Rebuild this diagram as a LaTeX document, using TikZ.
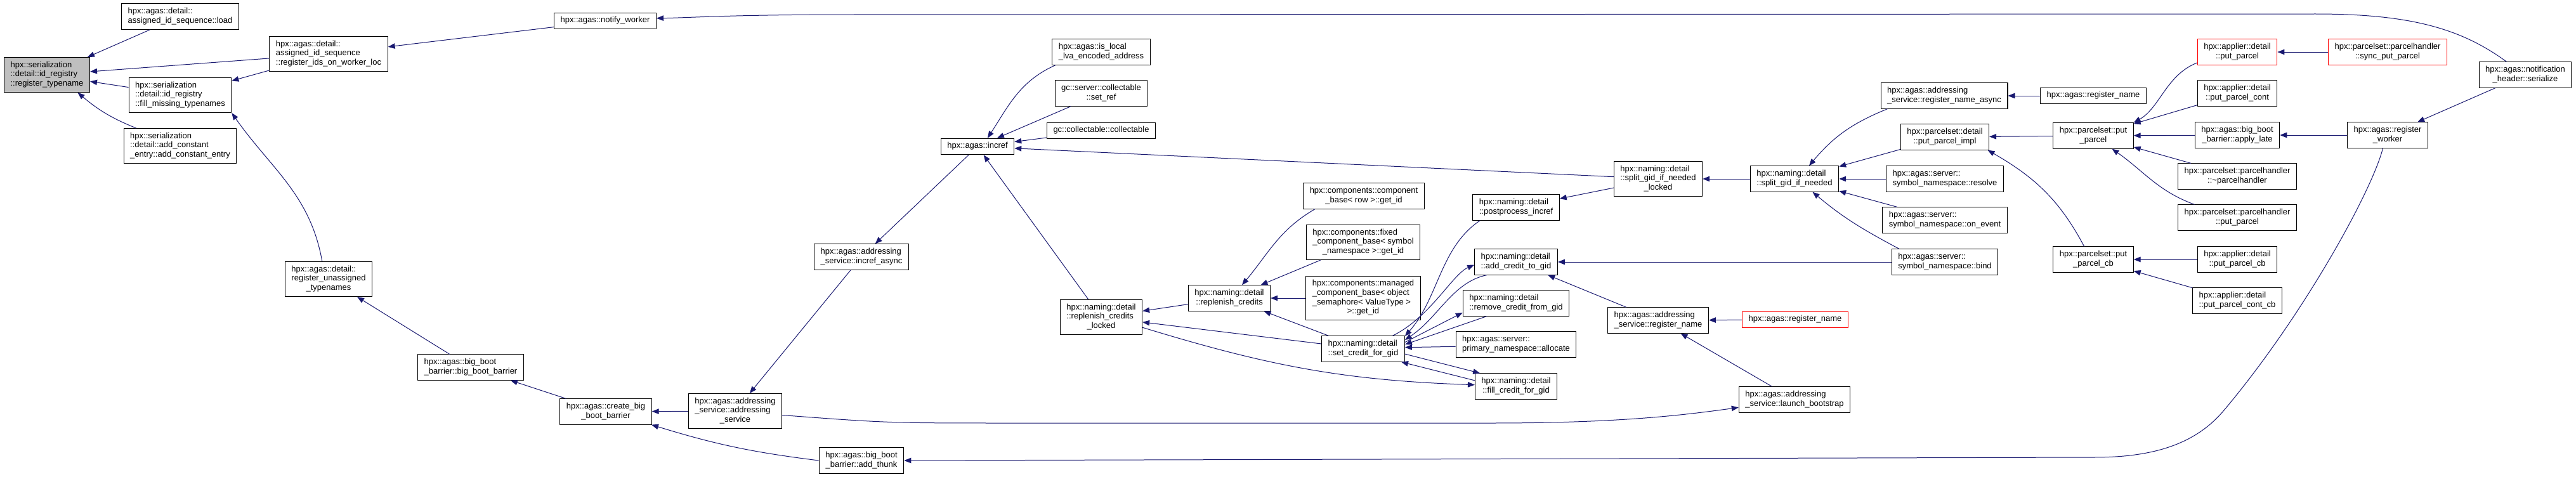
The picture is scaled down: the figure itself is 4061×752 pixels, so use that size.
\documentclass[tikz,border=0pt]{standalone}
\usepackage{fontspec}
\setmainfont{Liberation Sans}
\usetikzlibrary{arrows.meta}

\definecolor{callblue}{HTML}{191970}
\definecolor{selfgray}{HTML}{BFBFBF}

% label of a function box: every line left, the last one centred
\newcommand{\fnlabel}[2]{\begin{tabular}{@{}l@{}}#1\\\multicolumn{1}{@{}c@{}}{#2}\end{tabular}}
\newcommand{\fnone}[1]{\begin{tabular}{@{}c@{}}#1\end{tabular}}

\begin{document}
\begin{tikzpicture}[
  x=1pt, y=1pt,
  func/.style={rectangle, draw=black, line width=1.1pt, fill=white, inner xsep=10pt, inner ysep=5.4pt, font=\fontsize{13}{14.7}\selectfont},
  current/.style={func, fill=selfgray},
  cut/.style={func, draw=red},
  call/.style={draw=callblue, line width=1pt, -{Triangle[length=11pt,width=8.5pt]}}
]
\useasboundingbox (0,0) rectangle (4061,-752);

% ------------------------------------------------------------
% Function and direct callers
% ------------------------------------------------------------

\node[current] (root) at (74,-118) {\fnlabel{hpx::serialization\\::detail::id\_registry}{::register\_typename}};

\node[func] (load) at (284,-26) {\fnlabel{hpx::agas::detail::}{assigned\_id\_sequence::load}};
\node[func] (fillmiss) at (284,-150) {\fnlabel{hpx::serialization\\::detail::id\_registry}{::fill\_missing\_typenames}};
\node[func] (addconst) at (284,-230) {\fnlabel{hpx::serialization\\::detail::add\_constant}{\_entry::add\_constant\_entry}};
\node[func] (regids) at (518,-85) {\fnlabel{hpx::agas::detail::\\assigned\_id\_sequence}{::register\_ids\_on\_worker\_loc}};
\node[func] (unassigned) at (518,-440) {\fnlabel{hpx::agas::detail::\\register\_unassigned}{\_typenames}};
\node[func] (notify) at (954,-33) {\fnone{hpx::agas::notify\_worker}};

\draw[call] (load) -- (root);
\draw[call] (regids) -- (root);
\draw[call] (fillmiss) -- (root);
\draw[call] (addconst.158) to[out=158,in=-40] (root.-30);
\draw[call] (regids) -- (fillmiss);
\draw[call] (unassigned.110) to[out=100,in=-55] (fillmiss.south east);
\draw[call] (notify) -- (regids);

% ------------------------------------------------------------
% Boot barrier
% ------------------------------------------------------------

\node[func] (bigboot) at (742,-579) {\fnlabel{hpx::agas::big\_boot}{\_barrier::big\_boot\_barrier}};
\node[func] (createbig) at (955,-649) {\fnlabel{hpx::agas::create\_big}{\_boot\_barrier}};
\node[func] (addrsvc) at (1159,-648) {\fnlabel{hpx::agas::addressing\\\_service::addressing}{\_service}};
\node[func] (increfasync) at (1358,-405) {\fnlabel{hpx::agas::addressing}{\_service::incref\_async}};
\node[func] (addthunk) at (1358,-726) {\fnlabel{hpx::agas::big\_boot}{\_barrier::add\_thunk}};

\draw[call] (bigboot) -- (unassigned);
\draw[call] (createbig) -- (bigboot);
\draw[call] (addrsvc) -- (createbig);
\draw[call] (addthunk.west) to[bend left=5] (createbig.-16);
\draw[call] (increfasync) -- (addrsvc);

% ------------------------------------------------------------
% Reference counting
% ------------------------------------------------------------

\node[func] (incref) at (1541,-231) {\fnone{hpx::agas::incref}};
\node[func] (islocal) at (1736,-82) {\fnlabel{hpx::agas::is\_local}{\_lva\_encoded\_address}};
\node[func] (setref) at (1736,-147) {\fnlabel{gc::server::collectable}{::set\_ref}};
\node[func] (collectable) at (1736,-206) {\fnone{gc::collectable::collectable}};
\node[func] (replocked) at (1736,-500) {\fnlabel{hpx::naming::detail\\::replenish\_credits}{\_locked}};
\node[func] (replenish) at (1938,-470) {\fnlabel{hpx::naming::detail}{::replenish\_credits}};

\draw[call] (incref) -- (increfasync);
\draw[call] (islocal.196) to[out=204,in=57] (incref.40);
\draw[call] (setref) -- (incref);
\draw[call] (collectable) -- (incref);
\draw[call] (replocked) -- (incref);
\draw[call] (replenish) -- (replocked);

% ------------------------------------------------------------
% Credits
% ------------------------------------------------------------

\node[func] (compbase) at (2150,-309) {\fnlabel{hpx::components::component}{\_base< row >::get\_id}};
\node[func] (fixedcomp) at (2149,-382) {\fnlabel{hpx::components::fixed\\\_component\_base< symbol}{\_namespace >::get\_id}};
\node[func] (managed) at (2149,-470) {\fnlabel{hpx::components::managed\\\_component\_base< object\\\_semaphore< ValueType >}{>::get\_id}};
\node[func] (setcredit) at (2149,-550) {\fnlabel{hpx::naming::detail}{::set\_credit\_for\_gid}};

\node[func] (postincref) at (2390,-327) {\fnlabel{hpx::naming::detail}{::postprocess\_incref}};
\node[func] (addcredit) at (2390,-413) {\fnlabel{hpx::naming::detail}{::add\_credit\_to\_gid}};
\node[func] (rmcredit) at (2390,-478) {\fnlabel{hpx::naming::detail}{::remove\_credit\_from\_gid}};
\node[func] (allocate) at (2390,-543) {\fnlabel{hpx::agas::server::}{primary\_namespace::allocate}};
\node[func] (fillcredit) at (2390,-609) {\fnlabel{hpx::naming::detail}{::fill\_credit\_for\_gid}};

\draw[call] (compbase.195) to[out=210,in=50] (replenish.46);
\draw[call] (fixedcomp) -- (replenish);
\draw[call] (managed) -- (replenish);
\draw[call] (setcredit) -- (replenish);
\draw[call] (setcredit) -- (replocked);
\draw[call] (replocked.-14) to[out=-17,in=178] (fillcredit.178);

\draw[call] (postincref.200) .. controls (2270,-390) and (2268,-470) .. (setcredit.17);
\draw[call] (setcredit.24) .. controls (2255,-500) and (2290,-432) .. (addcredit.184);
\draw[call] (addcredit.204) .. controls (2290,-445) and (2268,-500) .. (setcredit.12);
\draw[call] (setcredit.9) -- (rmcredit.190);
\draw[call] (rmcredit.204) -- (setcredit.6);
\draw[call] (allocate.182) -- (setcredit.2);
\draw[call] (setcredit.-7) -- (fillcredit.160);
\draw[call] (fillcredit.172) -- (setcredit.-19);

% ------------------------------------------------------------
% Splitting gids, names
% ------------------------------------------------------------

\node[func] (splitlocked) at (2614,-282) {\fnlabel{hpx::naming::detail\\::split\_gid\_if\_needed}{\_locked}};
\node[func] (svcregname) at (2614,-505) {\fnlabel{hpx::agas::addressing}{\_service::register\_name}};
\node[func] (split) at (2829,-282) {\fnlabel{hpx::naming::detail}{::split\_gid\_if\_needed}};
\node[cut] (regnamered) at (2830,-504) {\fnone{hpx::agas::register\_name}};
\node[func] (launch) at (2829,-630) {\fnlabel{hpx::agas::addressing}{\_service::launch\_bootstrap}};

\node[func] (regnameasync) at (3065,-151) {\fnlabel{hpx::agas::addressing}{\_service::register\_name\_async}};
\node[func] (putimpl) at (3066,-216) {\fnlabel{hpx::parcelset::detail}{::put\_parcel\_impl}};
\node[func] (resolve) at (3066,-282) {\fnlabel{hpx::agas::server::}{symbol\_namespace::resolve}};
\node[func] (onevent) at (3066,-347) {\fnlabel{hpx::agas::server::}{symbol\_namespace::on\_event}};
\node[func] (bind) at (3066,-413) {\fnlabel{hpx::agas::server::}{symbol\_namespace::bind}};
\node[func] (regname) at (3300,-151) {\fnone{hpx::agas::register\_name}};

\draw[call] (splitlocked) -- (incref);
\draw[call] (splitlocked) -- (postincref);
\draw[call] (svcregname) -- (addcredit);
\draw[call] (bind) -- (addcredit);
\draw[call] (regnamered) -- (svcregname);
\draw[call] (launch) -- (svcregname);
\draw[call] (addrsvc.-5) .. controls (1400,-667) .. (1600,-667) -- (2350,-667) .. controls (2550,-667) and (2650,-655) .. (launch.188);

\draw[call] (split) -- (splitlocked);
\draw[call] (regnameasync.193) to[out=202,in=50] (split.42);
\draw[call] (putimpl) -- (split);
\draw[call] (resolve) -- (split);
\draw[call] (onevent) -- (split);
\draw[call] (bind.164) to[out=152,in=-40] (split.-36);
\draw[call] (regname) -- (regnameasync);

% ------------------------------------------------------------
% Parcels
% ------------------------------------------------------------

\node[func] (putparcel) at (3300,-214) {\fnlabel{hpx::parcelset::put}{\_parcel}};
\node[func] (putparcelcb) at (3300,-409) {\fnlabel{hpx::parcelset::put}{\_parcel\_cb}};

\node[cut] (appput) at (3527,-82) {\fnlabel{hpx::applier::detail}{::put\_parcel}};
\node[func] (appcont) at (3527,-147) {\fnlabel{hpx::applier::detail}{::put\_parcel\_cont}};
\node[func] (applylate) at (3527,-213) {\fnlabel{hpx::agas::big\_boot}{\_barrier::apply\_late}};
\node[func] (dtor) at (3527,-278) {\fnlabel{hpx::parcelset::parcelhandler}{::\textasciitilde parcelhandler}};
\node[func] (phput) at (3527,-343) {\fnlabel{hpx::parcelset::parcelhandler}{::put\_parcel}};
\node[func] (appcb) at (3527,-409) {\fnlabel{hpx::applier::detail}{::put\_parcel\_cb}};
\node[func] (appcontcb) at (3527,-474) {\fnlabel{hpx::applier::detail}{::put\_parcel\_cont\_cb}};

\node[cut] (syncput) at (3764,-82) {\fnlabel{hpx::parcelset::parcelhandler}{::sync\_put\_parcel}};
\node[func] (regworker) at (3764,-213) {\fnlabel{hpx::agas::register}{\_worker}};
\node[func] (notifhdr) at (3981,-118) {\fnlabel{hpx::agas::notification}{\_header::serialize}};

\draw[call] (putparcel) -- (putimpl);
\draw[call] (putparcelcb.125) to[out=118,in=-30] (putimpl.-17);
\draw[call] (appput.195) .. controls (3415,-118) and (3405,-170) .. (putparcel.north east);
\draw[call] (appcont) -- (putparcel);
\draw[call] (applylate) -- (putparcel);
\draw[call] (dtor) -- (putparcel);
\draw[call] (phput.163) to[out=160,in=-35] (putparcel.-35);
\draw[call] (appcb) -- (putparcelcb);
\draw[call] (appcontcb) -- (putparcelcb);
\draw[call] (syncput) -- (appput);
\draw[call] (regworker) -- (applylate);
\draw[call] (notifhdr) -- (regworker);

% long ones
\draw[call] (notifhdr.145) .. controls (3880,-45) and (3800,-22) .. (3650,-22) -- (1350,-23) .. controls (1150,-23) and (1090,-28) .. (notify.3);
\draw[call] (regworker.250) .. controls (3740,-300) and (3630,-500) .. (3505,-648) .. controls (3455,-707) and (3380,-721) .. (3300,-721) -- (addthunk.east);

\end{tikzpicture}
\end{document}
